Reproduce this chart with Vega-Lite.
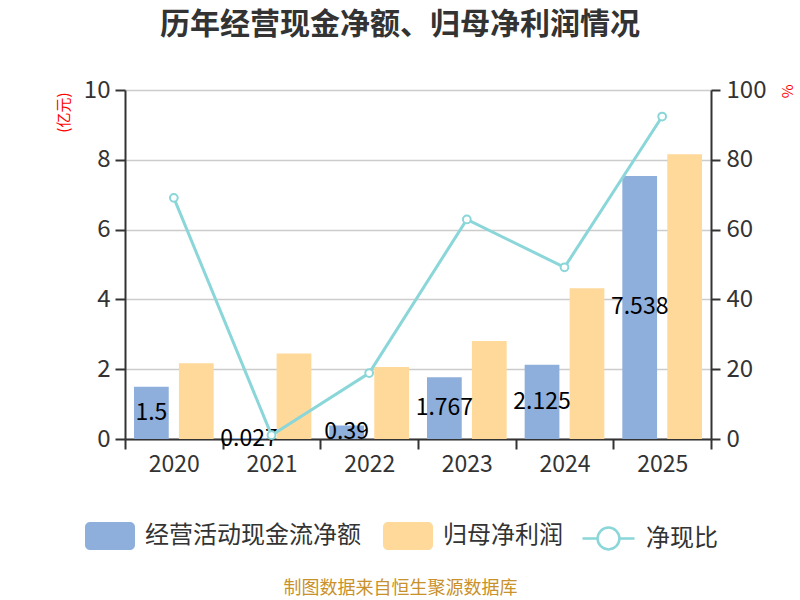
{
  "$schema": "https://vega.github.io/schema/vega-lite/v6.json",
  "autosize": {"type": "none"},
  "width": 586,
  "height": 349,
  "padding": {"left": 125, "top": 90, "right": 89, "bottom": 161},
  "background": "white",
  "config": {
    "font": "Noto Sans CJK SC",
    "view": {"stroke": null}
  },
  "title": {
    "text": "历年经营现金净额、归母净利润情况",
    "fontSize": 30,
    "fontWeight": "bold",
    "color": "#333333",
    "anchor": "middle",
    "dx": -18,
    "offset": 38
  },
  "datasets": {
    "bars": [
      {"year": "2020", "type": "经营活动现金流净额", "value": 1.5},
      {"year": "2020", "type": "归母净利润", "value": 2.17},
      {"year": "2021", "type": "经营活动现金流净额", "value": 0.027},
      {"year": "2021", "type": "归母净利润", "value": 2.45},
      {"year": "2022", "type": "经营活动现金流净额", "value": 0.39},
      {"year": "2022", "type": "归母净利润", "value": 2.06},
      {"year": "2023", "type": "经营活动现金流净额", "value": 1.767},
      {"year": "2023", "type": "归母净利润", "value": 2.81},
      {"year": "2024", "type": "经营活动现金流净额", "value": 2.125},
      {"year": "2024", "type": "归母净利润", "value": 4.32},
      {"year": "2025", "type": "经营活动现金流净额", "value": 7.538},
      {"year": "2025", "type": "归母净利润", "value": 8.16}
    ],
    "ratio": [
      {"year": "2020", "ratio": 69.1},
      {"year": "2021", "ratio": 1.1},
      {"year": "2022", "ratio": 18.9},
      {"year": "2023", "ratio": 62.9},
      {"year": "2024", "ratio": 49.2},
      {"year": "2025", "ratio": 92.4}
    ]
  },
  "encoding": {
    "x": {
      "field": "year",
      "type": "nominal",
      "scale": {"paddingInner": 0, "paddingOuter": 0},
      "axis": {
        "labelAngle": 0,
        "labelFontSize": 23,
        "labelColor": "#333333",
        "labelPadding": 4,
        "domainColor": "#333333",
        "domainWidth": 2,
        "tickColor": "#333333",
        "tickWidth": 2,
        "tickSize": 10,
        "tickBand": "extent",
        "grid": false,
        "title": "制图数据来自恒生聚源数据库",
        "titleColor": "#C9912B",
        "titleFontSize": 18,
        "titleFontWeight": "normal",
        "titleX": 275,
        "titleY": 149,
        "titleAlign": "center",
        "titleBaseline": "middle"
      }
    }
  },
  "layer": [
    {
      "data": {"name": "bars"},
      "mark": {"type": "bar"},
      "encoding": {
        "xOffset": {
          "field": "type",
          "type": "nominal",
          "sort": ["经营活动现金流净额", "归母净利润"],
          "scale": {"domain": ["经营活动现金流净额", "归母净利润"], "paddingInner": 0.227, "paddingOuter": 0.2}
        },
        "y": {
          "field": "value",
          "type": "quantitative",
          "scale": {"domain": [0, 10]},
          "axis": {
            "values": [0, 2, 4, 6, 8, 10],
            "labelFontSize": 24,
            "labelColor": "#333333",
            "labelPadding": 5,
            "domainColor": "#333333",
            "domainWidth": 2,
            "tickColor": "#333333",
            "tickWidth": 2,
            "tickSize": 10,
            "grid": true,
            "gridColor": "#cccccc",
            "gridWidth": 1.5,
            "title": "(亿元)",
            "titleColor": "#ff0000",
            "titleFontSize": 15,
            "titleFontWeight": "normal",
            "titleAngle": -90,
            "titleX": -62,
            "titleY": 2,
            "titleAlign": "right",
            "titleBaseline": "middle"
          }
        },
        "color": {
          "field": "type",
          "type": "nominal",
          "sort": ["经营活动现金流净额", "归母净利润"],
          "scale": {"domain": ["经营活动现金流净额", "归母净利润"], "range": ["#8EAEDB", "#FFD99A"]},
          "legend": {
            "orient": "none",
            "legendX": -40,
            "legendY": 421,
            "direction": "horizontal",
            "title": null,
            "symbolType": "M-0.8,-0.56H0.8A0.2,0.2 0 0 1 1,-0.36V0.36A0.2,0.2 0 0 1 0.8,0.56H-0.8A0.2,0.2 0 0 1 -1,0.36V-0.36A0.2,0.2 0 0 1 -0.8,-0.56Z",
            "symbolSize": 2500,
            "symbolStrokeWidth": 0,
            "symbolOpacity": 1,
            "labelFontSize": 24,
            "labelLimit": 400,
            "labelColor": "#333333",
            "labelOffset": 10,
            "columnPadding": 22
          }
        }
      }
    },
    {
      "data": {"name": "bars"},
      "transform": [{"filter": "datum.type === '经营活动现金流净额'"}],
      "mark": {"type": "text", "fontSize": 23, "color": "#000000", "baseline": "middle", "align": "center"},
      "encoding": {
        "xOffset": {
          "field": "type",
          "type": "nominal",
          "sort": ["经营活动现金流净额", "归母净利润"],
          "scale": {"domain": ["经营活动现金流净额", "归母净利润"], "paddingInner": 0.227, "paddingOuter": 0.2}
        },
        "y": {
          "field": "value",
          "type": "quantitative",
          "scale": {"domain": [0, 20]},
          "axis": null
        },
        "text": {"field": "value", "type": "nominal"}
      }
    },
    {
      "data": {"name": "ratio"},
      "mark": {
        "type": "line",
        "strokeWidth": 3,
        "point": {"filled": false, "fill": "white", "size": 60, "strokeWidth": 2}
      },
      "encoding": {
        "y": {
          "field": "ratio",
          "type": "quantitative",
          "scale": {"domain": [0, 100]},
          "axis": {
            "orient": "right",
            "values": [0, 20, 40, 60, 80, 100],
            "labelFontSize": 24,
            "labelColor": "#333333",
            "labelPadding": 6,
            "domainColor": "#333333",
            "domainWidth": 2,
            "tickColor": "#333333",
            "tickWidth": 2,
            "tickSize": 9,
            "grid": false,
            "title": "%",
            "titleColor": "#ff0000",
            "titleFontSize": 15,
            "titleFontWeight": "normal",
            "titleAngle": 90,
            "titleX": 75,
            "titleY": -6,
            "titleAlign": "left",
            "titleBaseline": "middle"
          }
        },
        "stroke": {
          "datum": "净现比",
          "type": "nominal",
          "scale": {"domain": ["净现比"], "range": ["#8AD6D9"]},
          "legend": {
            "orient": "none",
            "legendX": 456,
            "legendY": 421,
            "direction": "horizontal",
            "title": null,
            "symbolType": "M-1,0H-0.42M0.42,0H1M-0.42,0A0.42,0.42 0 1 1 0.42,0A0.42,0.42 0 1 1 -0.42,0Z",
            "symbolSize": 2704,
            "symbolStrokeWidth": 2.5,
            "symbolFillColor": "#ffffff",
            "labelFontSize": 24,
            "labelLimit": 400,
            "labelColor": "#333333",
            "labelOffset": 10,
            "encode": {"symbols": {"update": {"fill": {"value": "#ffffff"}, "fillOpacity": {"value": 1}}}}
          }
        }
      }
    }
  ],
  "resolve": {"scale": {"y": "independent"}}
}
